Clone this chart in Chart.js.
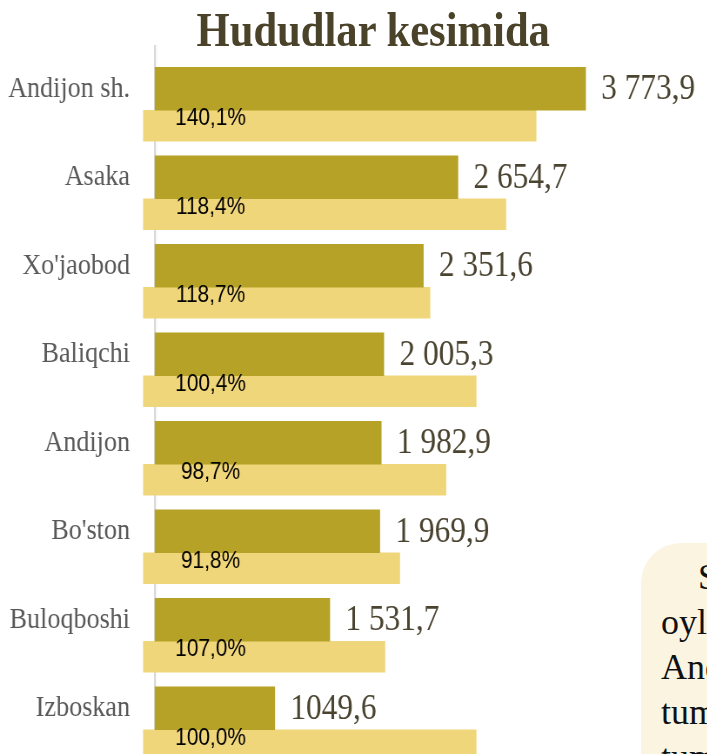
<!DOCTYPE html>
<html>
<head>
<meta charset="utf-8">
<script src="https://cdn.jsdelivr.net/npm/chart.js@4.4.1/dist/chart.umd.min.js"></script>
<style>
    html, body { margin: 0; padding: 0; background: #fff; overflow: hidden; }
    /* the source picture is squeezed horizontally, so the chart is drawn wide and scaled */
    #stage {
        position: absolute;
        left: 0; top: 0;
        width: 812px;
        height: 774px;
        transform: scaleX(0.87);
        transform-origin: 0 0;
    }
    #title {
        position: absolute;
        left: 0; top: 0;
        width: 858px;
        text-align: center;
        font: bold 49px "Liberation Serif", "DejaVu Serif", serif;
        line-height: 60px;
        color: #4a4229;
    }
    #chart { position: absolute; left: 0; top: 0; }
    #note {
        position: absolute;
        left: 641px; top: 543px;
        width: 300px; height: 300px;
        box-sizing: border-box;
        padding: 12px 0 0 20px;
        background: #faf4e1;
        border-radius: 40px;
        font: 36px "Liberation Serif", serif;
        line-height: 45px;
        text-indent: 37px;
        color: #111;
        white-space: nowrap;
    }
</style>
</head>
<body>
<div id="stage">
    <canvas id="chart" width="812" height="774"></canvas>
    <div id="title">Hududlar kesimida</div>
</div>
<div id="note">Sanoat<br>oylarida<br>Andijon<br>tumanida<br>tumanlar</div>

<script>
/* ---- Data ---- */
const regions = ['Andijon sh.', 'Asaka', "Xo'jaobod", 'Baliqchi', 'Andijon', "Bo'ston", 'Buloqboshi', 'Izboskan'];
const volume = [3773.9, 2654.7, 2351.6, 2005.3, 1982.9, 1969.9, 1531.7, 1049.6];
const volumeText = ['3 773,9', '2 654,7', '2 351,6', '2 005,3', '1 982,9', '1 969,9', '1 531,7', '1049,6'];
const growthBar = [3340, 3075, 2410, 2815, 2550, 2145, 2015, 2815];
const growthPct = [140.1, 118.4, 118.7, 100.4, 98.7, 91.8, 107.0, 100.0];

const DARK = '#b5a226';
const LIGHT = '#f0d67a';
const LIGHT_BASE = -105;

/* ---- Axis line at zero ---- */
const zeroLine = {
    id: 'zeroLine',
    beforeDatasetsDraw(chart) {
        const { ctx, scales: { x } } = chart;
        const px = x.getPixelForValue(0);
        ctx.save();
        ctx.strokeStyle = '#d9d9d9';
        ctx.lineWidth = 2.3;
        ctx.beginPath();
        ctx.moveTo(px, 45);
        ctx.lineTo(px, chart.height);
        ctx.stroke();
        ctx.restore();
    }
};

/* ---- Value labels ---- */
const barLabels = {
    id: 'barLabels',
    afterDatasetsDraw(chart) {
        const ctx = chart.ctx;
        ctx.save();
        ctx.textBaseline = 'middle';

        ctx.font = '36px "Liberation Serif", serif';
        ctx.fillStyle = '#4a4330';
        ctx.textAlign = 'left';
        chart.getDatasetMeta(0).data.forEach((bar, i) => {
            ctx.fillText(volumeText[i], bar.x + 18, bar.y + 1);
        });

        ctx.font = '24px "Liberation Sans", Arial, sans-serif';
        ctx.fillStyle = '#000';
        ctx.textAlign = 'center';
        chart.getDatasetMeta(1).data.forEach((bar, i) => {
            const txt = growthPct[i].toFixed(1).replace('.', ',') + '%';
            ctx.fillText(txt, 242, bar.y - 7);
        });
        ctx.restore();
    }
};

new Chart(document.getElementById('chart'), {
    type: 'bar',
    data: {
        labels: regions,
        datasets: [
            {
                label: 'Hajm',
                data: volume,
                backgroundColor: DARK,
                barThickness: 43
            },
            {
                label: 'O\'sish',
                data: growthBar,
                base: LIGHT_BASE,
                backgroundColor: LIGHT,
                barThickness: 31
            }
        ]
    },
    options: {
        indexAxis: 'y',
        responsive: false,
        animation: false,
        layout: { autoPadding: false, padding: { top: 66, right: 0, bottom: 0, left: 0 } },
        scales: {
            x: {
                display: false,
                min: LIGHT_BASE,
                max: 4833
            },
            y: {
                afterFit(scale) {
                    scale.width = 164.4;
                    // no extra room for half-labels at the ends
                    scale.paddingTop = 0;
                    scale.paddingBottom = 0;
                },
                border: { display: false },
                grid: { display: false, drawTicks: false },
                ticks: {
                    padding: 15,
                    labelOffset: -21.5,
                    color: '#595959',
                    font: { family: '"Liberation Serif", serif', size: 30 }
                }
            }
        },
        plugins: {
            legend: { display: false },
            tooltip: { enabled: false }
        }
    },
    plugins: [zeroLine, barLabels]
});
</script>
</body>
</html>
